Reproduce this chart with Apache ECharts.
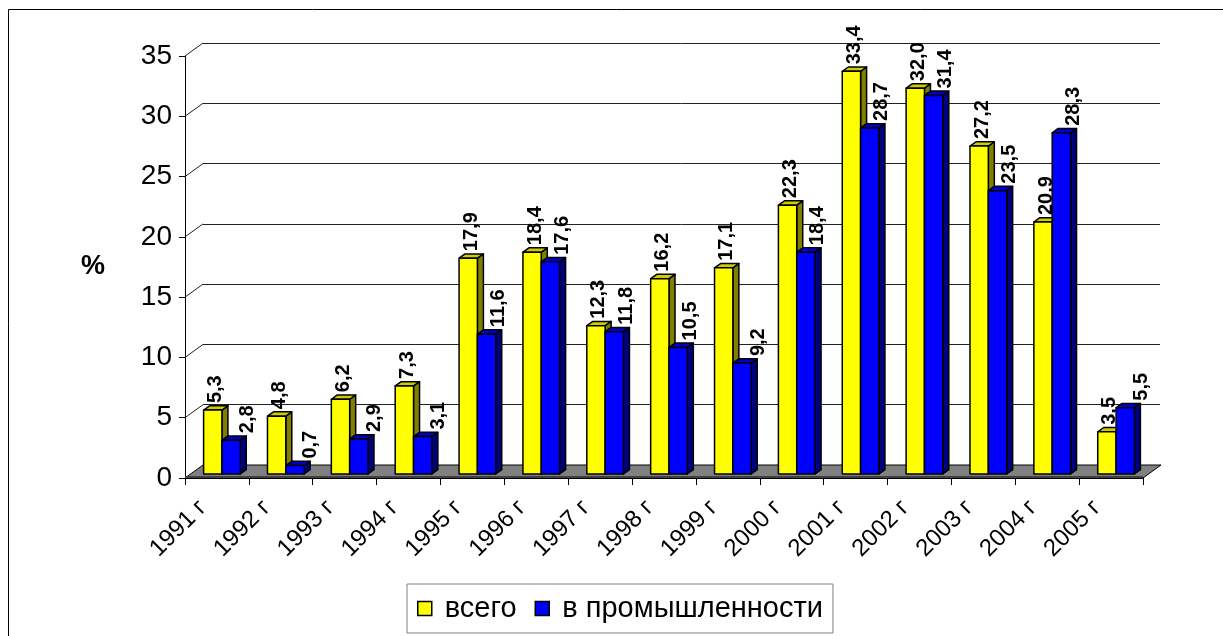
<!DOCTYPE html>
<html>
<head>
<meta charset="utf-8">
<script src="https://cdn.jsdelivr.net/npm/echarts@6/dist/echarts.min.js"></script>
<style>
html,body{margin:0;padding:0;background:#fff;}
#c{width:1223px;height:636px;}
</style>
</head>
<body>
<div id="c"></div>
<script>
const categories = ['1991 г','1992 г','1993 г','1994 г','1995 г','1996 г','1997 г','1998 г','1999 г','2000 г','2001 г','2002 г','2003 г','2004 г','2005 г'];
const total = [5.3, 4.8, 6.2, 7.3, 17.9, 18.4, 12.3, 16.2, 17.1, 22.3, 33.4, 32.0, 27.2, 20.9, 3.5];
const industry = [2.8, 0.7, 2.9, 3.1, 11.6, 17.6, 11.8, 10.5, 9.2, 18.4, 28.7, 31.4, 23.5, 28.3, 5.5];
const yTicks = [0, 5, 10, 15, 20, 25, 30, 35];
const seriesNames = ['всего', 'в промышленности'];

const FONT = 'Liberation Sans, Arial, sans-serif';
const DEPTH_X = 18, DEPTH_Y = -13;   // floor depth
const BAR_OX = 5.5, BAR_OY = -4;     // bar placement in depth
const SIDE_X = 6, SIDE_Y = -4.3;     // bar thickness

const colors = [
  {front:'#FFFF00', top:'#CCCC00', side:'#808000'},
  {front:'#0000FF', top:'#0000CC', side:'#000080'}
];

function fmt(v){ return v.toFixed(1).replace('.', ','); }

function bar3d(slot){
  const c = colors[slot];
  return function(params, api){
    const i = api.value(0), v = api.value(1);
    const base = api.coord([i, 0]);
    const top = api.coord([i, v]);
    const band = api.size([1, 0])[0];
    const w = band * 0.287;
    const x0 = base[0] + BAR_OX - 0.5 + (slot === 0 ? -w : 0);
    const yb = base[1] + BAR_OY, yt = top[1] + BAR_OY;
    const st = {stroke:'#000', lineWidth:1.5, lineJoin:'round'};
    const label = fmt(v);
    const lx = x0 + w/2 + (slot === 0 ? 3 : (label.length < 4 ? 16 : 12));
    return {
      type:'group',
      children:[
        {type:'polygon', shape:{points:[[x0+w,yt],[x0+w+SIDE_X,yt+SIDE_Y],[x0+w+SIDE_X,yb+SIDE_Y],[x0+w,yb]]}, style:Object.assign({fill:c.side}, st)},
        {type:'polygon', shape:{points:[[x0,yt],[x0+w,yt],[x0+w+SIDE_X,yt+SIDE_Y],[x0+SIDE_X,yt+SIDE_Y]]}, style:Object.assign({fill:c.top}, st)},
        {type:'rect', shape:{x:x0, y:yt, width:w, height:yb-yt}, style:Object.assign({fill:c.front}, st)},
        {type:'text', x:lx, y:yt-7, rotation:Math.PI/2, z2:10,
          style:{text:label, fill:'#000', font:'bold 20px ' + FONT, fontSize:20, fontWeight:'bold', fontFamily:FONT, align:'left', verticalAlign:'middle'}}
      ]
    };
  };
}

const chart = echarts.init(document.getElementById('c'), null, {renderer:'canvas'});
const option = {
  backgroundColor:'#fff',
  animation:false,
  graphic:[{type:'rect', shape:{x:8.5, y:9.5, width:1240, height:660}, style:{fill:'none', stroke:'#000', lineWidth:1}, z:-10}],
  grid:[
    {left:185, right:80, top:56, bottom:158},
    {left:185+DEPTH_X, right:80-DEPTH_X+1, top:56+DEPTH_Y, bottom:158-DEPTH_Y}
  ],
  xAxis:[
    {type:'category', gridIndex:0, data:categories, boundaryGap:true,
     axisLine:{show:true, lineStyle:{color:'#000', width:1}},
     axisTick:{show:true, interval:0, length:7, lineStyle:{color:'#000'}},
     axisLabel:{interval:0, rotate:45, margin:12, padding:[0,20,0,0], color:'#000', fontSize:24, fontFamily:FONT},
     splitLine:{show:false}},
    {type:'category', gridIndex:1, data:categories, show:false}
  ],
  yAxis:[
    {type:'value', gridIndex:0, min:0, max:35, interval:5,
     name:'%', nameLocation:'middle', nameRotate:0, nameGap:80,
     nameTextStyle:{fontSize:27, fontWeight:'bold', color:'#000', fontFamily:FONT},
     axisLine:{show:true, lineStyle:{color:'#000', width:1}},
     axisTick:{show:true, length:6, lineStyle:{color:'#000'}},
     axisLabel:{margin:13, color:'#000', fontSize:28, fontFamily:FONT},
     splitLine:{show:false}},
    {type:'value', gridIndex:1, min:0, max:35, interval:5,
     axisLine:{show:false}, axisTick:{show:false}, axisLabel:{show:false},
     splitLine:{show:true, lineStyle:{color:'#222', width:1}}}
  ],
  legend:{
    left:407, top:584, orient:'horizontal',
    padding:[10,10,10,10], itemGap:18, itemWidth:14, itemHeight:14,
    borderColor:'#808080', borderWidth:1, backgroundColor:'#fff',
    textStyle:{fontSize:29, color:'#000', fontFamily:FONT, lineHeight:28, padding:[0,0,0,8]},
    data:[
      {name:seriesNames[0], icon:'rect', itemStyle:{color:colors[0].front, borderColor:'#000', borderWidth:1.5}},
      {name:seriesNames[1], icon:'rect', itemStyle:{color:colors[1].front, borderColor:'#000', borderWidth:1.5}}
    ]
  },
  series:[
    {type:'custom', name:'wall', xAxisIndex:0, yAxisIndex:0, silent:true, clip:false, z:1,
     data:yTicks.slice(1).map(v=>[0, v]),
     renderItem:function(params, api){
       const cs = params.coordSys;
       const y = api.coord([0, api.value(1)])[1];
       return {type:'line', shape:{x1:cs.x, y1:y, x2:cs.x+DEPTH_X, y2:y+DEPTH_Y}, style:{stroke:'#222', lineWidth:1}};
     }},
    {type:'custom', name:'floor', xAxisIndex:0, yAxisIndex:0, silent:true, clip:false, z:1,
     data:[[0, 0]],
     renderItem:function(params, api){
       const cs = params.coordSys;
       const y0 = api.coord([0, 0])[1];
       const x0 = cs.x, x1 = cs.x + cs.width;
       return {type:'group', children:[
         {type:'polygon', shape:{points:[[x0,y0],[x1,y0],[x1+DEPTH_X,y0+DEPTH_Y],[x0+DEPTH_X,y0+DEPTH_Y]]},
          style:{fill:'#808080', stroke:'#000', lineWidth:1}},
         {type:'line', shape:{x1:x0, y1:y0-1, x2:x1, y2:y0-1}, style:{stroke:'#404040', lineWidth:2}}
       ]};
     }},
    {type:'custom', name:seriesNames[0], xAxisIndex:0, yAxisIndex:0, clip:false, z:3,
     itemStyle:{color:colors[0].front},
     data:total.map((v,i)=>[i,v]), renderItem:bar3d(0)},
    {type:'custom', name:seriesNames[1], xAxisIndex:0, yAxisIndex:0, clip:false, z:4,
     itemStyle:{color:colors[1].front},
     data:industry.map((v,i)=>[i,v]), renderItem:bar3d(1)}
  ]
};
chart.setOption(option);
</script>
</body>
</html>
